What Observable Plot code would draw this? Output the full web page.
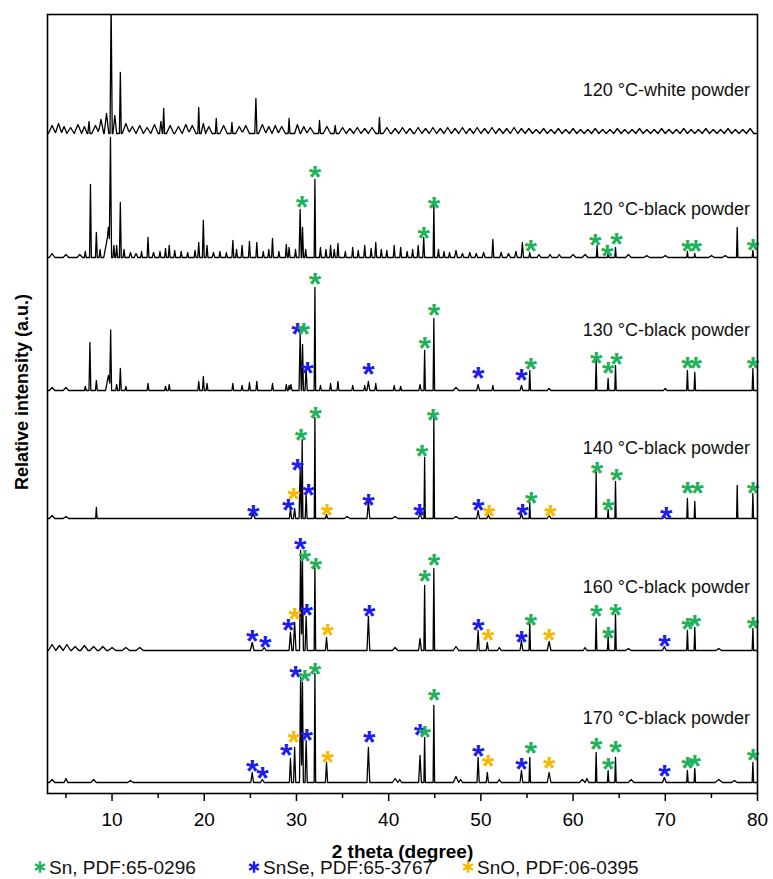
<!DOCTYPE html>
<html><head><meta charset="utf-8">
<script src="https://cdn.jsdelivr.net/npm/d3@7"></script>
<script src="https://cdn.jsdelivr.net/npm/@observablehq/plot@0.6"></script>
<style>
body{margin:0;background:#fff;font-family:"Liberation Sans",Arial,sans-serif;}
#wrap{position:relative;width:773px;height:879px;overflow:hidden;}
#legend{position:absolute;left:0;top:852px;width:773px;height:27px;font-size:19px;color:#111;}
#legend .item{position:absolute;top:6px;white-space:nowrap;line-height:20px;height:20px;}
#legend svg{display:inline-block;vertical-align:top;margin-right:2px;margin-top:2px;}
#ylabel{position:absolute;left:22px;top:392px;transform:translate(-50%,-50%) rotate(-90deg);white-space:nowrap;font-weight:bold;font-size:18px;line-height:20px;color:#000;}
</style></head><body><div id="wrap"><div id="chart"></div><div id="ylabel"></div><div id="legend"></div></div>
<script>
// ---- data ----
const samples = ["120 °C-white powder","120 °C-black powder","130 °C-black powder","140 °C-black powder","160 °C-black powder","170 °C-black powder"];
const offsets = [660, 536, 403, 275, 143, 11];           // vertical offset of each pattern (a.u.)
const labelLift = [43, 48, 60, 70, 63, 64];               // label height above its pattern (a.u.)
const phases = ["Sn, PDF:65-0296", "SnSe, PDF:65-3767", "SnO, PDF:06-0395"];
const phaseColors = ["#1fb25a", "#1c1cf0", "#f9b800"];
const xTicks = [10, 20, 30, 40, 50, 60, 70, 80];
const xMinorTicks = [5, 15, 25, 35, 45, 55, 65, 75];
const xTitle = "2 theta (degree)";
const yTitle = "Relative intensity (a.u.)";

// peaks: [2theta, height, half-width]
const peaksWhite = [[3.5,8,.4],[4.2,10,.35],[4.8,7,.3],[5.5,6,.4],[6.3,9,.4],[7.0,7,.3],[7.5,12,.12],[8.2,8,.4],[8.8,14,.3],[9.4,20,.25],[9.9,130,.12],[10.3,18,.2],[10.9,61,.1],[11.5,10,.4],[12.2,7,.4],[13.0,8,.4],[13.8,6,.4],[14.6,9,.4],[15.3,12,.15],[15.6,25,.1],[16.3,8,.4],[17.2,7,.4],[18.0,9,.4],[18.7,8,.4],[19.4,26,.1],[19.9,10,.25],[20.5,7,.35],[21.3,15,.1],[22.1,8,.4],[23.0,11,.1],[23.8,7,.4],[24.5,8,.4],[25.6,35,.12],[26.3,9,.4],[27.0,7,.35],[27.7,8,.35],[28.4,7,.4],[29.2,15,.1],[30.1,9,.3],[30.8,7,.35],[31.5,6,.4],[32.5,13,.1],[33.3,7,.4],[34.2,8,.12],[35.0,6,.4],[35.8,5,.4],[36.6,6,.4],[37.4,5,.4],[38.2,6,.4],[39.0,16,.1],[39.8,6,.4],[40.7,5,.4],[41.5,6,.4],[42.3,5,.4],[43.2,6,.4],[44.0,5,.4],[44.8,6,.4],[45.6,5,.4],[46.4,6,.4],[47.2,5,.4],[48.0,6,.4],[48.8,5,.4],[49.6,6,.4],[50.4,5,.4],[51.2,6,.4],[52.0,5,.4],[52.8,5,.4],[53.6,6,.4],[54.4,5,.4],[55.2,5,.4],[56.0,4,.4],[56.8,5,.4],[57.6,4,.4],[58.4,5,.4],[59.2,4,.4],[60.0,5,.4],[60.8,4,.4],[61.6,4,.4],[62.4,5,.4],[63.2,4,.4],[64.0,4,.4],[64.8,5,.4],[65.6,4,.4],[66.4,4,.4],[67.2,5,.4],[68.0,4,.4],[68.8,4,.4],[69.6,5,.4],[70.4,4,.4],[71.2,4,.4],[72.0,5,.4],[72.8,4,.4],[73.6,4,.4],[74.4,5,.4],[75.2,4,.4],[76.0,4,.4],[76.8,5,.4],[77.6,4,.4],[78.4,4,.4],[79.2,5,.4]];
const peaks120 = [[3.5,4,.3],[5,3,.3],[6.5,3,.3],[7.1,6,.1],[7.66,73,.1],[8.3,25,.1],[8.7,8,.1],[9.3,10,.2],[9.6,30,.3],[9.83,113,.12],[10.2,12,.1],[10.5,12,.1],[10.9,55,.1],[11.3,8,.1],[12.0,5,.15],[12.6,4,.2],[13.2,6,.1],[13.9,20,.1],[14.5,5,.15],[15.2,6,.1],[15.8,9,.1],[16.2,12,.1],[16.8,7,.1],[17.5,6,.1],[18.2,5,.1],[19.0,7,.1],[19.4,15,.1],[19.9,37,.1],[20.3,12,.1],[21.0,5,.15],[21.7,6,.1],[22.4,5,.1],[23.1,17,.1],[23.5,8,.1],[24.1,12,.1],[24.9,16,.1],[25.7,15,.1],[26.4,6,.1],[27.0,8,.1],[27.4,19,.1],[28.1,6,.1],[28.9,13,.1],[29.2,10,.1],[29.9,8,.1],[30.4,48,.12],[30.66,30,.1],[31.0,8,.1],[32.0,78,.08],[32.6,10,.1],[33.2,8,.1],[33.7,12,.1],[34.1,8,.1],[34.5,14,.1],[35.3,6,.1],[36.1,10,.1],[36.7,7,.1],[37.4,12,.1],[38.1,9,.1],[38.6,15,.1],[39.2,8,.1],[39.8,7,.1],[40.6,12,.1],[41.3,10,.1],[42.0,6,.1],[42.6,8,.1],[43.2,12,.1],[43.8,20,.1],[44.9,53,.08],[45.4,8,.1],[46.0,6,.1],[46.6,5,.1],[47.3,7,.15],[48.0,4,.15],[48.8,5,.15],[49.5,4,.15],[50.3,5,.15],[51.3,18,.1],[52.2,5,.15],[53.0,4,.2],[53.8,6,.15],[54.5,15,.12],[55.3,5,.1],[56.3,3,.2],[57.5,3,.2],[58.5,3,.2],[60,3,.3],[61.3,3,.3],[62.6,12,.08],[63.8,4,.08],[64.6,10,.08],[66,3,.3],[68,2,.3],[70,2,.3],[72.4,6,.08],[73.2,4,.08],[75,2,.3],[76.5,2,.3],[77.8,30,.08],[79.5,7,.08]];
const peaks130 = [[3.5,3,.3],[5,3,.3],[7.1,4,.1],[7.6,48,.1],[8.3,10,.1],[9.6,15,.3],[9.85,58,.1],[10.5,6,.1],[10.9,22,.1],[11.5,4,.1],[13.9,7,.1],[15.8,4,.1],[16.2,6,.1],[19.4,9,.1],[19.9,14,.1],[20.3,7,.1],[23.1,7,.1],[24.1,5,.1],[24.9,8,.1],[25.7,9,.1],[27.4,7,.1],[28.9,6,.1],[29.2,5,.1],[29.4,6,.12],[30.4,56,.12],[30.66,46,.1],[31.05,22,.12],[32.0,103,.08],[32.6,5,.1],[33.7,7,.1],[34.5,9,.1],[36.1,5,.1],[37.4,5,.1],[37.8,9,.15],[38.6,7,.1],[40.6,5,.1],[41.3,4,.1],[43.4,6,.12],[43.9,40,.08],[44.9,72,.08],[47.3,3,.3],[49.7,6,.15],[51.3,5,.1],[54.4,5,.15],[55.3,20,.08],[57.4,2,.2],[62.5,30,.08],[63.8,12,.08],[64.6,25,.08],[70,2,.2],[72.4,20,.08],[73.2,18,.08],[79.5,22,.08]];
const peaks140 = [[3.5,3,.3],[5,2,.3],[8.3,11,.08],[25.3,5,.2],[29.35,10,.12],[29.8,10,.12],[30.4,48,.12],[30.62,79,.08],[31.05,25,.1],[32.0,101,.07],[33.26,4,.12],[35.5,2,.3],[37.8,17,.15],[40.7,2,.3],[43.4,8,.15],[43.9,61,.07],[44.9,101,.07],[47.3,2,.3],[49.7,8,.15],[50.8,4,.15],[54.4,5,.15],[55.3,16,.07],[57.4,3,.2],[62.5,47,.07],[63.8,9,.07],[64.6,37,.07],[69.9,2,.2],[72.4,20,.07],[73.2,17,.07],[77.8,33,.07],[79.5,25,.07]];
const peaks160 = [[3.5,6,.4],[4.3,5,.4],[5.1,6,.4],[6,4,.4],[7,5,.4],[8,4,.4],[9,4,.4],[10,3,.4],[11.5,3,.4],[13,3,.4],[25.2,8,.2],[26.5,3,.2],[29.35,18,.15],[29.8,28,.15],[30.45,100,.12],[30.65,90,.1],[31.05,34,.12],[32.0,83,.08],[33.26,13,.12],[37.8,34,.15],[40.7,3,.3],[43.4,12,.15],[43.9,65,.08],[44.9,82,.08],[47.3,4,.3],[49.7,20,.12],[50.7,8,.12],[52.0,3,.2],[54.4,10,.15],[55.3,28,.08],[57.4,9,.2],[61.3,3,.2],[62.5,32,.08],[63.8,14,.08],[64.6,36,.08],[66,2,.3],[69.9,4,.2],[72.4,20,.08],[73.2,23,.08],[75.8,2,.3],[79.5,22,.08]];
const peaks170 = [[3.5,3,.3],[5,4,.2],[8,3,.3],[12,2,.3],[25.2,10,.15],[26.3,3,.2],[29.35,24,.12],[29.8,35,.12],[30.45,105,.12],[30.65,100,.1],[31.05,42,.12],[32.0,109,.08],[33.26,20,.12],[37.8,35,.15],[40.7,4,.3],[41.2,3,.2],[43.4,27,.15],[43.9,45,.08],[44.9,77,.08],[47.3,6,.3],[47.8,3,.2],[49.7,25,.12],[50.7,10,.12],[52.0,3,.2],[54.4,12,.15],[55.3,25,.08],[57.4,10,.2],[61.0,3,.3],[61.5,4,.2],[62.5,30,.08],[63.8,12,.08],[64.6,25,.08],[66.3,3,.3],[69.9,5,.2],[72.4,12,.08],[73.2,14,.08],[75.8,3,.4],[77.5,2,.3],[79.5,20,.08]];
const peakSets = [peaksWhite, peaks120, peaks130, peaks140, peaks160, peaks170];

// phase markers: [phase index, 2theta, height above pattern baseline]
const stars120 = [[0,30.6,58],[0,32.0,88],[0,43.8,27],[0,44.9,57],[0,55.4,14],[0,62.4,20],[0,63.7,9],[0,64.7,21],[0,72.4,14],[0,73.3,14],[0,79.5,15]];
const stars130 = [[1,30.1,64],[0,30.8,64],[1,31.2,25],[0,32.0,114],[1,37.8,24],[0,43.9,50],[0,44.9,83],[1,49.7,20],[1,54.4,18],[0,55.4,29],[0,62.5,35],[0,63.8,25],[0,64.7,34],[0,72.4,30],[0,73.3,30],[0,79.5,30]];
const stars140 = [[1,25.3,10],[1,29.1,16],[2,29.7,27],[1,30.1,56],[0,30.5,86],[1,31.3,31],[0,32.07,108],[2,33.3,11],[1,37.8,21],[1,43.35,11],[0,43.6,70],[0,44.8,106],[1,49.7,16],[2,50.9,10],[1,54.5,11],[0,55.45,23],[2,57.55,10],[0,62.6,53],[0,63.8,16],[0,64.7,46],[1,70.1,8],[0,72.4,33],[0,73.5,33],[0,79.5,33]];
const stars160 = [[1,25.2,17],[1,26.6,11],[1,29.1,28],[2,29.8,39],[1,30.4,109],[0,30.9,97],[1,31.1,43],[0,32.1,89],[2,33.4,23],[1,37.9,42],[0,43.9,77],[0,44.9,93],[1,49.7,28],[2,50.8,18],[1,54.4,16],[0,55.4,33],[2,57.4,18],[0,62.5,42],[0,63.8,20],[0,64.6,43],[1,69.9,12],[0,72.4,29],[0,73.2,32],[0,79.5,30]];
const stars170 = [[1,25.2,19],[1,26.3,12],[1,28.9,35],[2,29.7,48],[1,29.9,113],[0,30.9,109],[1,31.1,50],[0,32.0,116],[2,33.4,28],[1,37.9,48],[1,43.4,55],[0,43.9,53],[0,44.9,90],[1,49.7,34],[2,50.8,24],[1,54.4,21],[0,55.4,37],[2,57.4,22],[0,62.5,41],[0,63.8,21],[0,64.6,38],[1,69.9,14],[0,72.4,22],[0,73.2,24],[0,79.5,30]];
const starSets = [[], stars120, stars130, stars140, stars160, stars170];

// ---- build ----
function profile(peaks, offset, sample) {
  const xs = new Set([3, 80]);
  for (const [p, , w] of peaks) { xs.add(+(p - w).toFixed(3)); xs.add(p); xs.add(+(p + w).toFixed(3)); }
  return [...xs].filter(x => x >= 3 && x <= 80).sort((a, b) => a - b).map(x => ({
    sample, x,
    y: offset + peaks.reduce((s, [p, h, w]) => s + Math.max(0, h * (1 - Math.abs(x - p) / w)), 0)
  }));
}
const lineData = peakSets.flatMap((pk, i) => profile(pk, offsets[i], samples[i]));
const starData = starSets.flatMap((st, i) => st.map(([ph, x, h]) => ({phase: phases[ph], color: phaseColors[ph], x, y: offsets[i] + h})));
const labelData = samples.map((s, i) => ({text: s, y: offsets[i] + labelLift[i]}));

const xDomain = [3, 80], yDomain = [0, 779];
const font = "Liberation Sans, Arial, sans-serif";
const chart = Plot.plot({
  width: 773, height: 852,
  marginLeft: 47, marginRight: 16, marginTop: 14, marginBottom: 59,
  x: {domain: xDomain},
  y: {domain: yDomain, axis: null},
  style: {fontFamily: font, color: "#000", background: "#fff", overflow: "visible"},
  marks: [
    Plot.line(lineData, {x: "x", y: "y", z: "sample", stroke: "#000", strokeWidth: 1.3, clip: true}),
    Plot.text(starData, {x: "x", y: "y", text: () => "*", fill: "color", fontSize: 32, fontWeight: "bold", dy: 8}),
    Plot.text(labelData, {x: () => 79.2, y: "y", text: "text", textAnchor: "end", fontSize: 18, fill: "#111"}),
    Plot.frame({stroke: "#000", strokeWidth: 1.6}),
    Plot.axisX({ticks: xTicks, tickSize: 8, tickPadding: 11, fontSize: 19, label: null, strokeWidth: 1.5}),
    Plot.axisX({ticks: xMinorTicks, tickSize: 5, tickFormat: () => "", label: null, strokeWidth: 1.5}),
    Plot.text([xTitle], {x: () => (xDomain[0] + xDomain[1]) / 2, y: () => yDomain[0], dy: 58, fontWeight: "bold", fontSize: 19})
  ]
});
document.getElementById("chart").appendChild(chart);
document.getElementById("ylabel").textContent = yTitle;

// legend (stars drawn as asterisk symbols)
const legendLeft = [33, 247, 461];
const starPath = d3.symbol(d3.symbolAsterisk, 90)();
const legend = document.getElementById("legend");
phases.forEach((p, i) => {
  const item = document.createElement("span");
  item.className = "item";
  item.style.left = legendLeft[i] + "px";
  item.innerHTML = `<svg width="14" height="14" viewBox="-7 -7 14 14"><path d="${starPath}" stroke="${phaseColors[i]}" stroke-width="2.4" fill="none"/></svg>${p}`;
  legend.appendChild(item);
});
</script></body></html>
